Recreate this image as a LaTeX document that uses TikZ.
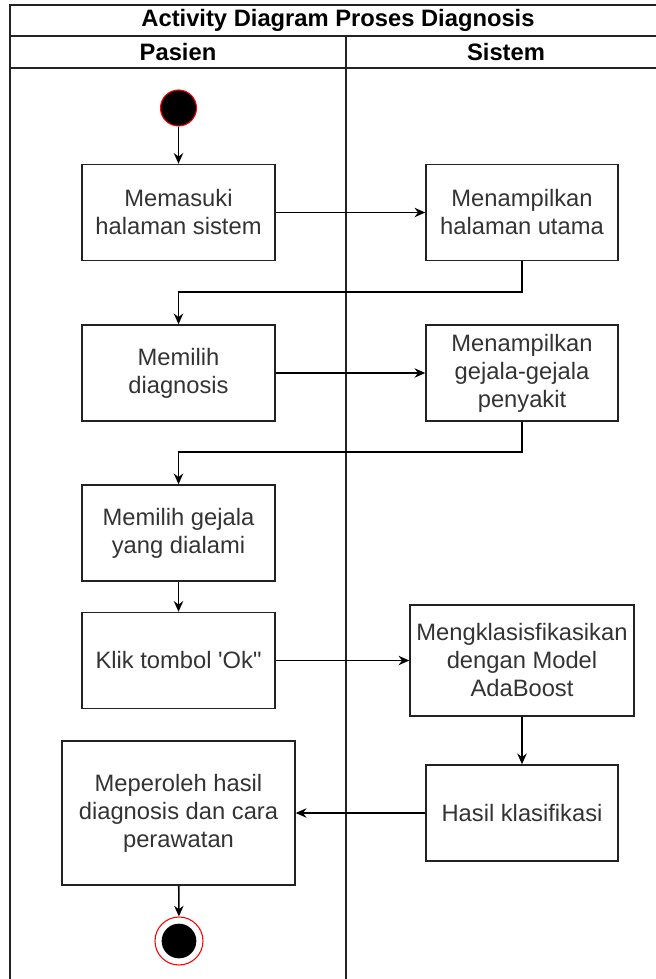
\documentclass[tikz,border=0pt]{standalone}
\usepackage{fontspec}
\newfontfamily\lanefont{Liberation Sans}
\usetikzlibrary{arrows.meta}
\definecolor{txtgray}{HTML}{333333}
\definecolor{linegray}{HTML}{222222}

\begin{document}
\begin{tikzpicture}[x=0.75pt, y=-0.75pt,
  every node/.style={font=\lanefont\fontsize{17.8}{21}\selectfont, align=center},
  actbox/.style={draw=linegray, line width=1.1pt, text=txtgray, inner sep=2pt,
    minimum width=144.75pt, minimum height=72pt},
  lanehead/.style={font=\lanefont\fontsize{17.8}{21}\selectfont\bfseries},
  flow/.style={draw=black, line width=1.2pt, -{Stealth[length=8pt, width=7pt]}}]
\useasboundingbox (0,0) rectangle (656,979);
\clip (0,0) rectangle (656,979);
% swimlane frame
\draw[line width=1.1pt, linegray] (10,979) -- (10,5) -- (670,5);
\draw[line width=1.1pt, linegray] (10,36) -- (670,36);
\draw[line width=1.1pt, linegray] (10,68) -- (670,68);
\draw[line width=1.1pt, linegray] (346,36) -- (346,979);
% title and lanes
\node[lanehead] (title) at (338,20.5) {Activity Diagram Proses Diagnosis};
\node[lanehead] (pasien) at (178,52) {Pasien};
\node[lanehead] (sistem) at (506,52) {Sistem};
% start
\node[circle, fill=black, draw=red, line width=0.8pt, minimum size=27pt, inner sep=0pt] (start) at (178.5,108) {};
% activities
\node[actbox] (masuk) at (178.5,212.5) {Memasuki\\halaman sistem};
\node[actbox, minimum width=144pt] (utama) at (522,212.5) {Menampilkan\\halaman utama};
\node[actbox] (pilih) at (178.5,373) {Memilih\\diagnosis};
\node[actbox, minimum width=144pt] (gejala) at (522,373) {Menampilkan\\gejala-gejala\\penyakit};
\node[actbox] (alami) at (178.5,533) {Memilih gejala\\yang dialami};
\node[actbox] (klik) at (178.5,660.5) {Klik tombol 'Ok"};
\node[actbox, minimum width=168pt, minimum height=83.25pt] (klasif) at (522,660.5) {Mengklasisfikasikan\\dengan Model\\AdaBoost};
\node[actbox, minimum width=144pt] (hasil) at (522,813) {Hasil klasifikasi};
\node[actbox, minimum width=174.75pt, minimum height=108pt] (peroleh) at (178.5,813) {Meperoleh hasil\\diagnosis dan cara\\perawatan};
% end
\node[circle, draw=red, fill=white, line width=0.8pt, minimum size=36pt, inner sep=0pt] (finish) at (179,941) {};
\node[circle, fill=black, minimum size=26pt, inner sep=0pt] (finishdot) at (179,941) {};
% bends
\coordinate (bendA) at (522,292);
\coordinate (bendB) at (522,452);
% flows
\draw[flow] (start) -- (masuk);
\draw[flow] (masuk) -- (utama);
\draw[flow] (utama.south) -- (bendA) -| (pilih.north);
\draw[flow] (pilih) -- (gejala);
\draw[flow] (gejala.south) -- (bendB) -| (alami.north);
\draw[flow] (alami) -- (klik);
\draw[flow] (klik) -- (klasif);
\draw[flow] (klasif) -- (hasil);
\draw[flow] (hasil) -- (peroleh);
\draw[flow] (peroleh) -- (finish);
\end{tikzpicture}
\end{document}
